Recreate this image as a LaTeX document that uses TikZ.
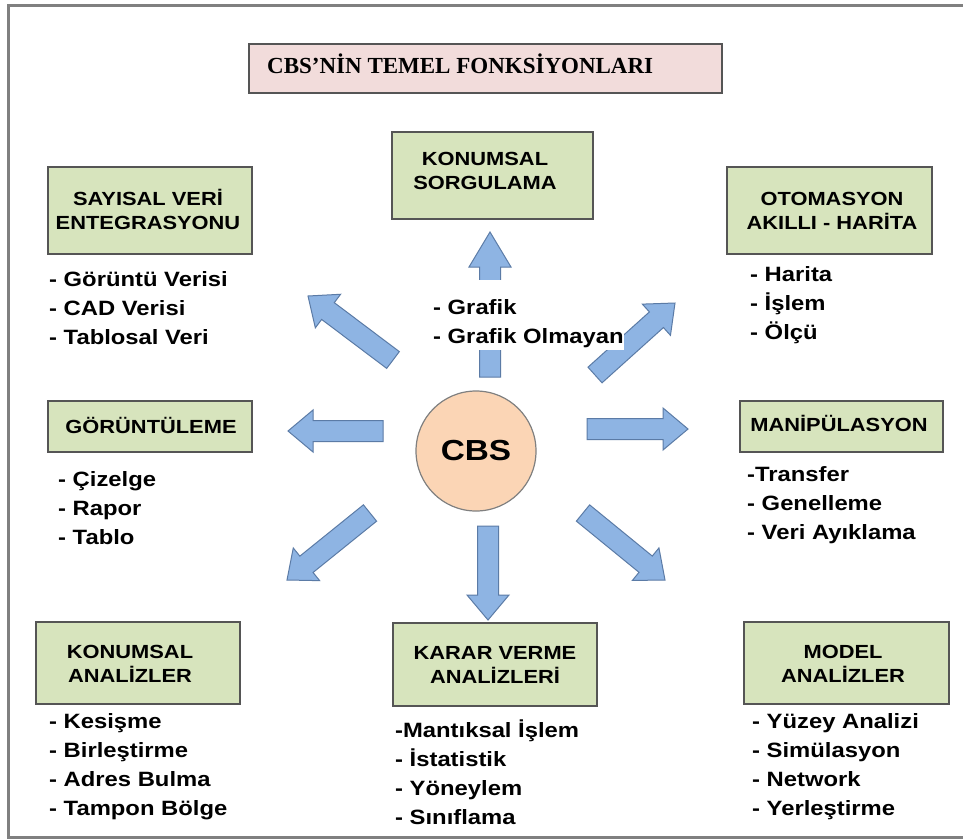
\documentclass[tikz,border=0pt]{standalone}
\usepackage{fontspec}
\setmainfont{Liberation Sans}[FakeStretch=1.15]
\newfontfamily\titlefont{Liberation Serif}
\usetikzlibrary{calc}

\definecolor{boxgreen}{HTML}{D7E4BD}
\definecolor{boxline}{HTML}{555555}
\definecolor{titlepink}{HTML}{F2DCDB}
\definecolor{peach}{HTML}{FBD5B5}
\definecolor{arrowfill}{HTML}{8EB4E3}
\definecolor{arrowline}{HTML}{5B7BA6}
\definecolor{framegray}{HTML}{808080}

% block arrow from tail #2 to tip #3, head length #1 (pt)
\newcommand\blockarrow[3][25]{%
  \coordinate (hb) at ($(#3)!#1pt!(#2)$);
  \draw[barrow] ($(#2)!10.5pt!90:(#3)$) -- ($(hb)!10.5pt!90:(#3)$)
    -- ($(hb)!21pt!90:(#3)$) -- (#3) -- ($(hb)!21pt!-90:(#3)$)
    -- ($(hb)!10.5pt!-90:(#3)$) -- ($(#2)!10.5pt!-90:(#3)$) -- cycle;}

\begin{document}
\begin{tikzpicture}[x=1pt,y=-1pt,
  frame/.style={draw=framegray,line width=3pt},
  fbox/.style={draw=boxline,fill=boxgreen,line width=1.5pt,inner sep=0pt},
  titlebox/.style={draw=boxline,fill=titlepink,line width=1.5pt,inner sep=0pt},
  % multi-line texts are placed by the baseline of their last line
  head/.style={anchor=base,align=center,inner sep=0pt,
    font=\fontsize{19}{24}\selectfont\bfseries},
  items/.style={anchor=base west,align=left,inner sep=0pt,
    font=\fontsize{20.7}{28.7}\selectfont\bfseries},
  barrow/.style={draw=arrowline,fill=arrowfill,line width=1pt,line join=miter},
  hub/.style={circle,draw=framegray,fill=peach,line width=1.2pt,
    minimum size=120pt,inner sep=0pt,font=\fontsize{29}{29}\selectfont\bfseries}]
\useasboundingbox (0,0) rectangle (963,839);
\fill[white] (0,0) rectangle (963,839);
\draw[frame] (8,5) rectangle (980,837);

% title
\node[titlebox,minimum width=473pt,minimum height=49pt] (title) at (485.5,68.5) {};
\node[anchor=base west,inner sep=0pt,font=\titlefont\bfseries\fontsize{23}{23}\selectfont]
  (titletext) at (267,73) {CBS’NİN TEMEL FONKSİYONLARI};

% function boxes
\node[fbox,minimum width=201pt,minimum height=87pt] (sorgu) at (492.5,175.5) {};
\node[fbox,minimum width=204pt,minimum height=87pt] (sayisal) at (150,210.5) {};
\node[fbox,minimum width=205pt,minimum height=87pt] (otomasyon) at (829.5,210.5) {};
\node[fbox,minimum width=204pt,minimum height=51pt] (goruntu) at (150,426.5) {};
\node[fbox,minimum width=203pt,minimum height=51pt] (manip) at (841.5,426.5) {};
\node[fbox,minimum width=204pt,minimum height=82pt] (konanaliz) at (138,663) {};
\node[fbox,minimum width=204pt,minimum height=83pt] (karar) at (495,664.5) {};
\node[fbox,minimum width=205pt,minimum height=82pt] (model) at (846.5,663) {};

% box headings
\node[head] (sorgutxt) at (485,189) {KONUMSAL\\SORGULAMA};
\node[head] (sayisaltxt) at (148,229) {SAYISAL VERİ\\ENTEGRASYONU};
\node[head] (otomasyontxt) at (832,229) {OTOMASYON\\AKILLI - HARİTA};
\node[head] (goruntutxt) at (151,433) {GÖRÜNTÜLEME};
\node[head] (maniptxt) at (839,431) {MANİPÜLASYON};
\node[head] (konanaliztxt) at (130,682) {KONUMSAL\\ANALİZLER};
\node[head] (karartxt) at (495,683) {KARAR VERME\\ANALİZLERİ};
\node[head] (modeltxt) at (843,682) {MODEL\\ANALİZLER};

% centre
\node[hub] (cbs) at (476,451) {CBS};

% arrows out of the centre
\coordinate (uT) at (490,377);  \coordinate (uH) at (490,232);
\coordinate (dT) at (488,526);  \coordinate (dH) at (488,620);
\coordinate (lT) at (383,431);  \coordinate (lH) at (288,431);
\coordinate (rT) at (587,429);  \coordinate (rH) at (688,429);
\coordinate (ulT) at (393,360); \coordinate (ulH) at (308,296);
\coordinate (urT) at (595,375); \coordinate (urH) at (675,303);
\coordinate (dlT) at (370,513); \coordinate (dlH) at (287,580);
\coordinate (drT) at (583,513); \coordinate (drH) at (665,580);
\blockarrow[35]{uT}{uH}
\blockarrow{dT}{dH}
\blockarrow{lT}{lH}
\blockarrow{rT}{rH}
\blockarrow{ulT}{ulH}
\blockarrow{urT}{urH}
\blockarrow{dlT}{dlH}
\blockarrow{drT}{drH}

% item lists
\node[items,fill=white] (grafik) at (433,343)
  {\rule{0pt}{34pt}- Grafik\\- Grafik Olmayan\rule[-7pt]{0pt}{7pt}};
\node[items] (sayisalist) at (49,344) {- Görüntü Verisi\\- CAD Verisi\\- Tablosal Veri};
\node[items] (otomasyonlist) at (750,339) {- Harita\\- İşlem\\- Ölçü};
\node[items] (goruntulist) at (58,544) {- Çizelge\\- Rapor\\- Tablo};
\node[items] (maniplist) at (747,539) {-Transfer\\- Genelleme\\- Veri Ayıklama};
\node[items] (konanalizlist) at (49,815) {- Kesişme\\- Birleştirme\\- Adres Bulma\\- Tampon Bölge};
\node[items] (kararlist) at (395,824) {-Mantıksal İşlem\\- İstatistik\\- Yöneylem\\- Sınıflama};
\node[items] (modellist) at (752,815) {- Yüzey Analizi\\- Simülasyon\\- Network\\- Yerleştirme};
\end{tikzpicture}
\end{document}
